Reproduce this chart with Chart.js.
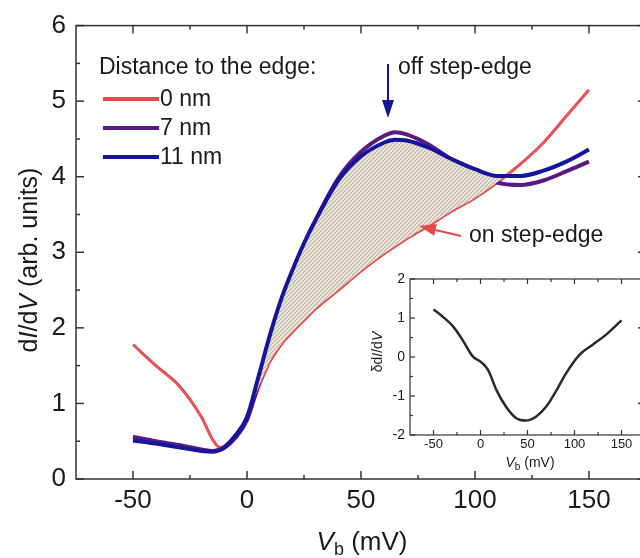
<!DOCTYPE html>
<html>
<head>
<meta charset="utf-8">
<script src="https://cdn.jsdelivr.net/npm/chart.js@4.4.1/dist/chart.umd.min.js"></script>
<style>
  body { margin: 0; width: 640px; height: 558px; overflow: hidden; position: relative; background: #fff; }
  #principal { position: absolute; left: 0; top: 0; }
  #inset { position: absolute; left: 360px; top: 262px; }
</style>
</head>
<body>
<canvas id="principal" width="670" height="558"></canvas>
<canvas id="inset" width="290" height="210"></canvas>
<script>
// datos
const sesgo = [-50, -40, -30, -20, -15, -12, -10, -5, 0, 5, 10, 15, 20, 25, 30, 40, 50, 60, 65, 70, 80, 90, 100, 110, 120, 130, 140, 150];
const dist0nm = [1.78, 1.5, 1.24, 0.82, 0.52, 0.42, 0.42, 0.55, 0.8, 1.2, 1.55, 1.78, 1.95, 2.1, 2.25, 2.5, 2.75, 2.98, 3.08, 3.18, 3.36, 3.55, 3.72, 3.93, 4.17, 4.45, 4.8, 5.15];
const dist7nm = [0.56, 0.5, 0.45, 0.39, 0.37, 0.39, 0.41, 0.55, 0.78, 1.26, 1.82, 2.32, 2.73, 3.1, 3.42, 3.98, 4.33, 4.54, 4.59, 4.56, 4.42, 4.22, 4.04, 3.92, 3.89, 3.95, 4.07, 4.2];
const dist11nm = [0.51, 0.47, 0.42, 0.37, 0.36, 0.38, 0.42, 0.58, 0.82, 1.35, 1.9, 2.38, 2.77, 3.12, 3.42, 3.95, 4.27, 4.45, 4.49, 4.48, 4.38, 4.23, 4.1, 4.01, 4.01, 4.08, 4.2, 4.36];

const sesgoInset = [-50, -40, -29, -20, -15, -8, 0, 8, 17, 27, 38, 48, 59, 70, 80, 91, 105, 119, 133, 150];
const deltaInset = [1.22, 1.03, 0.78, 0.47, 0.27, 0.01, -0.12, -0.33, -0.85, -1.27, -1.57, -1.63, -1.53, -1.27, -0.89, -0.42, 0.05, 0.31, 0.56, 0.94];

const ticksX = [-50, 0, 50, 100, 150];
const ticksY = [0, 1, 2, 3, 4, 5, 6];
const ticksYInset = [-2, -1, 0, 1, 2];

const leyenda = ['0 nm', '7 nm', '11 nm'];

// estilos
const rojo = '#e8474b';
const morado = '#5b1a82';
const azul = '#15159c';
const FUENTE = '"Liberation Sans", Arial, sans-serif';

const serie = (xs, ys) => xs.map((x, i) => ({ x, y: ys[i] }));
const medios = vals => vals.slice(1).map((v, i) => (v + vals[i]) / 2);

// trama rayada para la zona entre curvas
const crearTrama = () => {
    const c = document.createElement('canvas');
    c.width = 4; c.height = 4;
    const g = c.getContext('2d');
    g.fillStyle = '#f0e9d8';
    g.fillRect(0, 0, 4, 4);
    g.lineWidth = 1.1;
    g.strokeStyle = '#b5b2a9';
    [-4, 0, 4].forEach(o => {
        g.beginPath();
        g.moveTo(o, 4);
        g.lineTo(o + 4, 0);
        g.stroke();
    });
    return g.createPattern(c, 'repeat');
};

const linea = (ctx, x1, y1, x2, y2) => {
    ctx.beginPath();
    ctx.moveTo(x1, y1);
    ctx.lineTo(x2, y2);
    ctx.stroke();
};

// marco con marcas hacia dentro en los cuatro lados
const dibujarMarco = (chart, mayor, menor, grosor) => {
    const { ctx, chartArea: a, scales: { x, y } } = chart;
    ctx.save();
    ctx.strokeStyle = '#333';
    ctx.lineWidth = grosor;
    ctx.strokeRect(a.left, a.top, a.right - a.left, a.bottom - a.top);
    const vx = x.ticks.map(t => t.value);
    const vy = y.ticks.map(t => t.value);
    const marcasX = (vals, largo) => vals.forEach(v => {
        const p = x.getPixelForValue(v);
        linea(ctx, p, a.bottom, p, a.bottom - largo);
        linea(ctx, p, a.top, p, a.top + largo);
    });
    const marcasY = (vals, largo) => vals.forEach(v => {
        const p = y.getPixelForValue(v);
        linea(ctx, a.left, p, a.left + largo, p);
        linea(ctx, a.right, p, a.right - largo, p);
    });
    marcasX(vx, mayor);
    marcasX(medios(vx), menor);
    marcasY(vy, mayor);
    marcasY(medios(vy), menor);
    ctx.restore();
};

// texto con partes en cursiva / subindice
const textoMixto = (ctx, partes, x, y) => {
    let ancho = 0;
    partes.forEach(p => { ctx.font = p.font; ancho += ctx.measureText(p.t).width; });
    let cx = x - ancho / 2;
    ctx.textAlign = 'left';
    ctx.textBaseline = 'middle';
    partes.forEach(p => {
        ctx.font = p.font;
        ctx.fillText(p.t, cx, y + (p.dy || 0));
        cx += ctx.measureText(p.t).width;
    });
};

const flecha = (ctx, x1, y1, x2, y2, color, cabeza, medio) => {
    const ang = Math.atan2(y2 - y1, x2 - x1);
    const bx = x2 - cabeza * Math.cos(ang);
    const by = y2 - cabeza * Math.sin(ang);
    ctx.save();
    ctx.strokeStyle = color;
    ctx.fillStyle = color;
    ctx.lineWidth = 2;
    linea(ctx, x1, y1, bx, by);
    ctx.beginPath();
    ctx.moveTo(x2, y2);
    ctx.lineTo(bx + medio * Math.sin(ang), by - medio * Math.cos(ang));
    ctx.lineTo(bx - medio * Math.sin(ang), by + medio * Math.cos(ang));
    ctx.closePath();
    ctx.fill();
    ctx.restore();
};

const pluginPrincipal = {
    id: 'principal',
    afterDatasetsDraw(chart) {
        dibujarMarco(chart, 8, 4, 1.5);
    },
    afterDraw(chart) {
        const { ctx } = chart;
        ctx.save();
        ctx.fillStyle = '#1a1a1a';

        // leyenda
        ctx.font = '23px ' + FUENTE;
        ctx.textAlign = 'left';
        ctx.textBaseline = 'middle';
        ctx.fillText('Distance to the edge:', 99, 68);
        [rojo, morado, azul].forEach((color, i) => {
            const yy = [99, 128, 157][i];
            ctx.strokeStyle = color;
            ctx.lineWidth = 4;
            linea(ctx, 103, yy, 159, yy);
            ctx.fillStyle = '#1a1a1a';
            ctx.fillText(leyenda[i], 160, yy + 1);
        });

        // anotaciones
        flecha(ctx, 388, 64, 388, 118, azul, 18, 6);
        ctx.fillText('off step-edge', 398, 68);
        flecha(ctx, 461, 236, 419, 226, rojo, 17, 6);
        ctx.fillText('on step-edge', 469, 236);

        // titulos de ejes
        textoMixto(ctx, [
            { t: 'V', font: 'italic 26px ' + FUENTE },
            { t: 'b', font: '18px ' + FUENTE, dy: 7 },
            { t: ' (mV)', font: '26px ' + FUENTE }
        ], 362, 543);
        ctx.translate(30, 260);
        ctx.rotate(-Math.PI / 2);
        textoMixto(ctx, [
            { t: 'd', font: '25px ' + FUENTE },
            { t: 'I', font: 'italic 25px ' + FUENTE },
            { t: '/d', font: '25px ' + FUENTE },
            { t: 'V', font: 'italic 25px ' + FUENTE },
            { t: ' (arb. units)', font: '25px ' + FUENTE }
        ], 0, 0);
        ctx.restore();
    }
};

const pluginInset = {
    id: 'inset',
    afterDatasetsDraw(chart) {
        dibujarMarco(chart, 5, 3, 1.2);
    },
    afterDraw(chart) {
        const { ctx } = chart;
        ctx.save();
        ctx.fillStyle = '#1a1a1a';
        textoMixto(ctx, [
            { t: 'V', font: 'italic 14px ' + FUENTE },
            { t: 'b', font: '10px ' + FUENTE, dy: 4 },
            { t: ' (mV)', font: '14px ' + FUENTE }
        ], 170, 201);
        ctx.translate(18, 90);
        ctx.rotate(-Math.PI / 2);
        textoMixto(ctx, [
            { t: 'δd', font: '14px ' + FUENTE },
            { t: 'I', font: 'italic 14px ' + FUENTE },
            { t: '/d', font: '14px ' + FUENTE },
            { t: 'V', font: 'italic 14px ' + FUENTE }
        ], 0, 0);
        ctx.restore();
    }
};

const ejeLineal = (min, max, valores, tam, padding, ajuste) => ({
    type: 'linear',
    min, max,
    grid: { display: false, drawTicks: false },
    border: { display: false },
    ticks: { font: { family: FUENTE, size: tam }, color: '#1a1a1a', padding },
    afterBuildTicks: s => { s.ticks = valores.map(value => ({ value })); },
    afterFit: ajuste
});

const trama = crearTrama();

new Chart(document.getElementById('principal'), {
    type: 'line',
    data: {
        datasets: [
            { label: leyenda[2], data: serie(sesgo, dist11nm), borderColor: azul, borderWidth: 4,
              fill: { target: 2, above: trama, below: 'rgba(0,0,0,0)' } },
            { label: leyenda[1], data: serie(sesgo, dist7nm), borderColor: morado, borderWidth: 4, fill: false },
            { label: leyenda[0], data: serie(sesgo, dist0nm), borderColor: rojo, borderWidth: 3, fill: false }
        ]
    },
    options: {
        responsive: false,
        animation: false,
        elements: { point: { radius: 0 }, line: { cubicInterpolationMode: 'monotone' } },
        layout: { padding: { top: 19, right: 24, left: 0, bottom: 0 } },
        plugins: { legend: { display: false }, tooltip: { enabled: false } },
        scales: {
            x: ejeLineal(-75, 175, ticksX, 26, 6, s => { s.height = 79; }),
            y: ejeLineal(0, 6, ticksY, 26, 10, s => { s.width = 76; })
        }
    },
    plugins: [pluginPrincipal]
});

new Chart(document.getElementById('inset'), {
    type: 'line',
    data: {
        datasets: [
            { data: serie(sesgoInset, deltaInset), borderColor: '#2a2a2a', borderWidth: 2.5, fill: false }
        ]
    },
    options: {
        responsive: false,
        animation: false,
        elements: { point: { radius: 0 }, line: { cubicInterpolationMode: 'monotone' } },
        layout: { padding: { top: 17, right: 5, left: 0, bottom: 0 } },
        plugins: { legend: { display: false }, tooltip: { enabled: false } },
        scales: {
            x: ejeLineal(-75, 175, ticksX, 13, 2, s => { s.height = 37; }),
            y: ejeLineal(-2, 2, ticksYInset, 14, 5, s => { s.width = 50; })
        }
    },
    plugins: [pluginInset]
});
</script>
</body>
</html>
